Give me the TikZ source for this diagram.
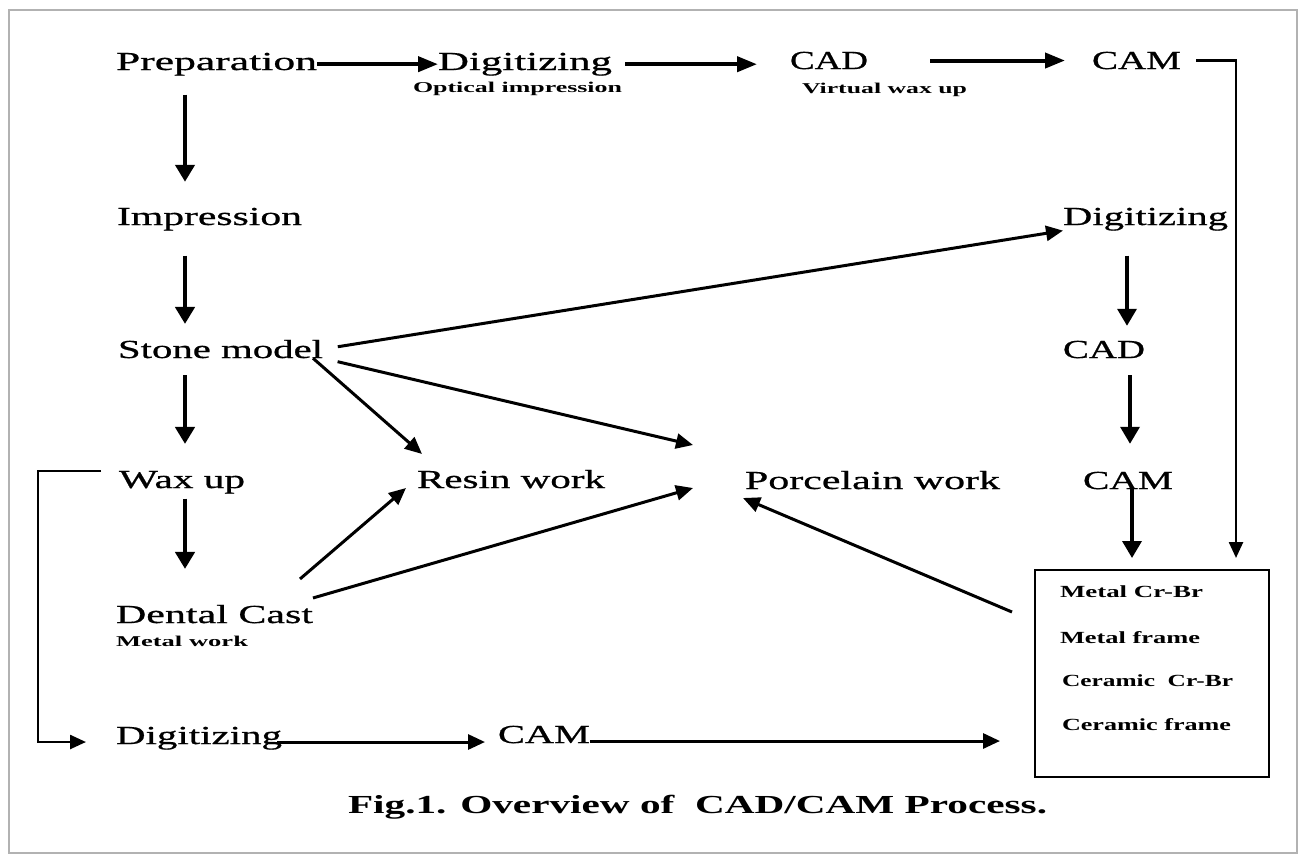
\documentclass[tikz,border=0pt]{standalone}
\usepackage{fontspec}
\setmainfont{Liberation Serif}
\newfontfamily\heavyserif{Liberation Serif}[FakeBold=0.6]
\usepackage{graphicx}
\usetikzlibrary{arrows.meta}
\newcommand\mf{\heavyserif\fontsize{26}{30}\selectfont}
\newcommand\sbf{\fontsize{15}{18}\selectfont\bfseries}
\newcommand\bxf{\fontsize{17}{20}\selectfont\bfseries}
\newcommand\capf{\fontsize{26}{30}\selectfont\bfseries}
\newcommand\fitw[2]{\resizebox{#1pt}{\height}{#2}}
\begin{document}
\begin{tikzpicture}[x=1pt,y=-1pt,
  txt/.style={inner sep=0pt,outer sep=0pt,anchor=base west},
  arr/.style={line width=3pt,-{Triangle[length=17pt,width=15pt]}},
  harr/.style={line width=4pt,-{Triangle[length=20pt,width=15pt]}},
  varr/.style={line width=4.5pt,-{Triangle[length=17pt,width=19pt]}},
  larr/.style={line width=2.5pt,-{Triangle[length=16pt,width=14pt]}},
]
\useasboundingbox (0,0) rectangle (1303,855);
\draw[line width=2pt, black!30] (9,10) rectangle (1297,853);

% nodes
\node[txt] (prep) at (116,70) {\mf\fitw{201}{Preparation}};
\node[txt] (dig1) at (438,70) {\mf\fitw{174}{Digitizing}};
\node[txt] (opt) at (413,92) {\sbf\fitw{209}{Optical impression}};
\node[txt] (cad1) at (790,69) {\mf\fitw{78}{CAD}};
\node[txt] (vwax) at (802,93) {\sbf\fitw{165}{Virtual wax up}};
\node[txt] (cam1) at (1092,69) {\mf\fitw{89}{CAM}};
\node[txt] (imp) at (117,225) {\mf\fitw{185}{Impression}};
\node[txt] (dig2) at (1063,225) {\mf\fitw{165}{Digitizing}};
\node[txt] (stone) at (118,358) {\mf\fitw{205}{Stone model}};
\node[txt] (cad2) at (1063,358) {\mf\fitw{82}{CAD}};
\node[txt] (wax) at (119,488) {\mf\fitw{126}{Wax up}};
\node[txt] (resin) at (417,488) {\mf\fitw{188}{Resin work}};
\node[txt] (porc) at (745,489) {\mf\fitw{255}{Porcelain work}};
\node[txt] (cam2) at (1083,489) {\mf\fitw{90}{CAM}};
\node[txt] (dcast) at (116,623) {\mf\fitw{197}{Dental Cast}};
\node[txt] (metal) at (116,646) {\sbf\fitw{132}{Metal work}};
\node[txt] (dig3) at (116,744) {\mf\fitw{166}{Digitizing}};
\node[txt] (cam3) at (498,743) {\mf\fitw{92}{CAM}};
\node[draw, line width=2.2pt, minimum width=234pt, minimum height=207pt,
      inner sep=0pt, outer sep=0pt, anchor=north west] (box) at (1035,570) {};
\node[txt] (bt1) at (1060,597) {\bxf\fitw{143}{Metal Cr-Br}};
\node[txt] (bt2) at (1060,643) {\bxf\fitw{140}{Metal frame}};
\node[txt] (bt3) at (1062,686) {\bxf\fitw{171}{Ceramic\ \ Cr-Br}};
\node[txt] (bt4) at (1062,730) {\bxf\fitw{169}{Ceramic frame}};
\node[txt] (cap) at (348,813) {\capf\fitw{699}{Fig.1. Overview of\ \ CAD/CAM Process.}};

% helper coordinates
\coordinate (cL) at (185,0);
\coordinate (cR1) at (1127,0);
\coordinate (cR2) at (1130,0);
\coordinate (cR3) at (1132,0);
\coordinate (pin1) at (693,445);
\coordinate (pin2) at (693,488);

% top row
\draw[harr] (prep.east) -- (prep.east -| dig1.west);
\draw[harr, shorten <=13pt, shorten >=33pt] (dig1.east) -- (dig1.east -| cad1.west);
\draw[harr, shorten <=62pt, shorten >=27pt] (cad1.east) -- (cad1.east -| cam1.west);
\draw[larr, shorten >=12pt] ([xshift=15pt]cam1.east) -| ([xshift=-33pt]box.north east);

% left column
\draw[varr, shorten <=19pt, shorten >=26pt] (prep.south -| cL) -- (imp.north -| cL);
\draw[varr, shorten <=25pt, shorten >=16pt] (imp.south -| cL) -- (stone.north -| cL);
\draw[varr, shorten <=17pt, shorten >=27pt] (stone.south -| cL) -- (wax.north -| cL);
\draw[varr, shorten <=5pt, shorten >=36pt] (wax.south -| cL) -- (dcast.north -| cL);

% right column
\draw[varr, line width=3.5pt, shorten <=25pt, shorten >=15pt] (dig2.south -| cR1) -- (cad2.north -| cR1);
\draw[varr, line width=3.5pt, shorten <=17pt, shorten >=28pt] (cad2.south -| cR2) -- (cam2.north -| cR2);
\draw[varr, line width=3.5pt, shorten <=-2pt, shorten >=12pt] (cam2.south -| cR3) -- (box.north -| cR3);

% diagonals
\draw[arr, shorten <=15pt] (stone.east) -- (dig2.south west);
\draw[arr, shorten <=15pt] (stone.south east) -- (pin1);
\draw[arr] ([xshift=-10pt]stone.south east) -- ([xshift=5pt,yshift=16pt]resin.north west);
\draw[arr] ([xshift=-13pt,yshift=26pt]dcast.north east) -- ([xshift=-11pt]resin.base west);
\draw[arr] ([yshift=7pt]dcast.north east) -- (pin2);
\draw[arr] ([xshift=-23pt,yshift=-42pt]box.north west) -- ([xshift=-2pt,yshift=-9pt]porc.base west);

% bottom row
\draw[arr, shorten <=-5pt, shorten >=13pt] ([yshift=2pt]dig3.base east) -- ([yshift=2pt]dig3.base east -| cam3.west);
\draw[arr, shorten >=35pt] ([yshift=2pt]cam3.base east) -- ([yshift=2pt]cam3.base east -| box.west);
\draw[larr] ([xshift=-18pt]wax.north west) -- ++(-63,0) |- ([xshift=-30pt,yshift=2pt]dig3.base west);
\end{tikzpicture}
\end{document}
